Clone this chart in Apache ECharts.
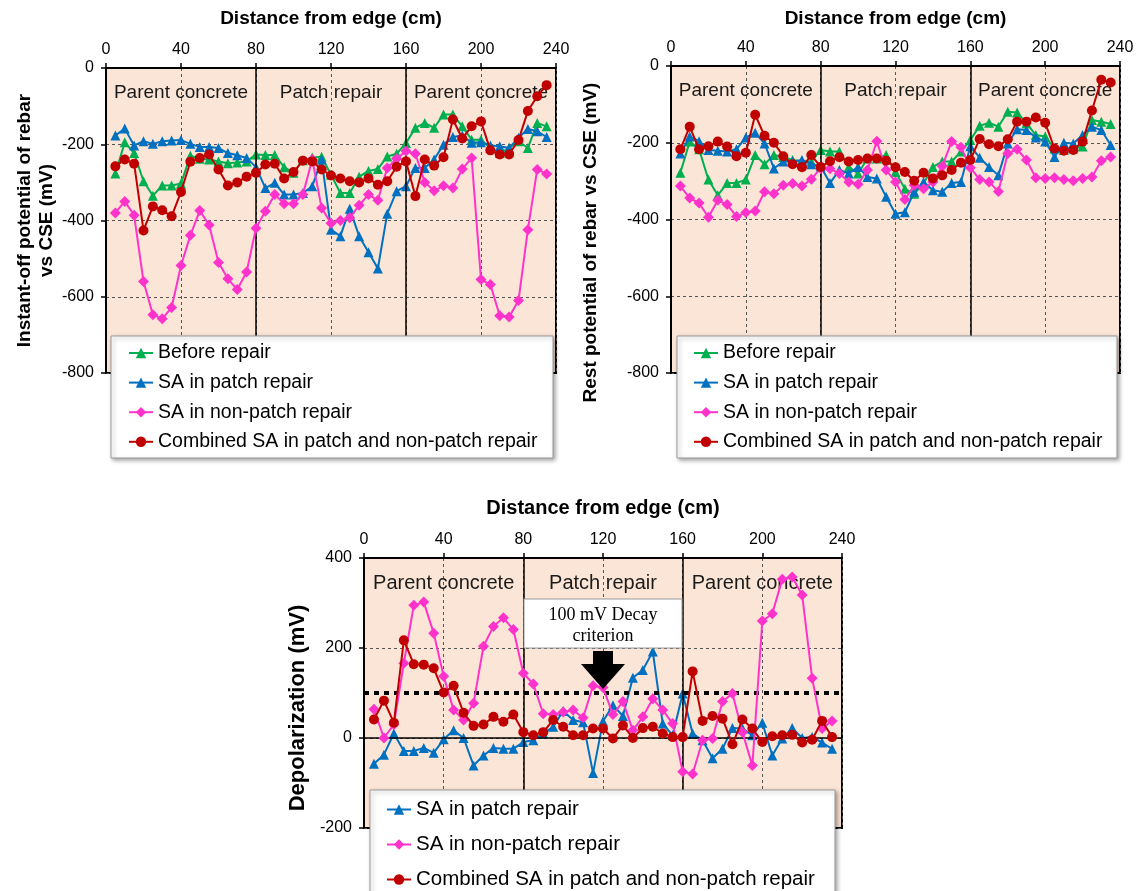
<!DOCTYPE html>
<html>
<head>
<meta charset="utf-8">
<script src="https://cdn.jsdelivr.net/npm/echarts@6/dist/echarts.min.js"></script>
<style>html,body{margin:0;padding:0;background:#fff;}#c{width:1141px;height:891px;}</style>
</head>
<body>
<div id="c"></div>
<script>
// Distance from edge (cm)
const distance = [5,10,15,20,25,30,35,40,45,50,55,60,65,70,75,80,85,90,95,100,105,110,115,120,125,130,135,140,145,150,155,160,165,170,175,180,185,190,195,200,205,210,215,220,225,230,235];
const xTicks = [0,40,80,120,160,200,240];
const regions = ['Parent concrete','Patch repair','Parent concrete'];
const seriesNames = ['Before repair','SA in patch repair','SA in non-patch repair','Combined SA in patch and non-patch repair'];

// Panel 1: Instant-off potential of rebar vs CSE (mV)
const instBefore = [-277,-195,-223,-297,-335,-308,-308,-303,-230,-238,-240,-245,-250,-248,-245,-227,-228,-228,-260,-275,-242,-235,-233,-280,-328,-328,-285,-270,-265,-232,-225,-197,-157,-144,-157,-122,-122,-153,-188,-188,-210,-223,-210,-192,-210,-144,-153];
const instPatch = [-177,-159,-203,-192,-199,-192,-190,-189,-199,-207,-207,-210,-223,-229,-236,-260,-315,-301,-332,-332,-328,-310,-240,-424,-441,-369,-441,-483,-526,-382,-323,-310,-262,-262,-240,-201,-181,-177,-196,-195,-203,-205,-210,-183,-160,-166,-181];
const instNonPatch = [-380,-350,-386,-560,-647,-658,-628,-518,-439,-374,-412,-510,-553,-581,-535,-420,-376,-332,-356,-356,-332,-240,-367,-407,-400,-393,-360,-332,-347,-262,-238,-218,-225,-300,-322,-309,-315,-265,-236,-555,-568,-650,-653,-610,-424,-266,-278];
const instCombined = [-258,-240,-251,-426,-363,-373,-389,-325,-246,-236,-227,-266,-308,-300,-285,-275,-253,-251,-290,-273,-243,-245,-266,-282,-290,-297,-300,-290,-306,-297,-259,-245,-336,-240,-256,-234,-135,-185,-153,-140,-216,-227,-227,-189,-113,-74,-45];

// Panel 2: Rest potential of rebar vs CSE (mV)
const restBefore = [-278,-197,-217,-296,-337,-305,-305,-296,-232,-256,-232,-237,-245,-249,-249,-219,-223,-223,-263,-280,-241,-241,-232,-276,-320,-333,-306,-263,-249,-249,-223,-193,-156,-148,-158,-119,-121,-149,-180,-184,-215,-219,-215,-210,-141,-145,-151];
const restPatch = [-228,-184,-196,-219,-221,-223,-217,-186,-174,-202,-267,-249,-249,-245,-256,-262,-305,-271,-280,-263,-289,-293,-341,-385,-381,-328,-302,-324,-328,-305,-302,-209,-239,-263,-285,-202,-165,-167,-186,-197,-237,-200,-202,-180,-158,-167,-206];
const restNonPatch = [-313,-344,-357,-394,-350,-361,-392,-382,-378,-328,-333,-311,-306,-313,-295,-267,-268,-280,-302,-308,-271,-196,-271,-302,-348,-311,-320,-302,-261,-197,-212,-265,-296,-302,-327,-228,-217,-245,-291,-293,-291,-296,-299,-293,-289,-247,-237];
const restCombined = [-217,-158,-217,-209,-197,-210,-235,-226,-127,-182,-200,-235,-256,-264,-232,-263,-248,-238,-249,-245,-241,-241,-247,-264,-276,-299,-278,-293,-285,-271,-252,-245,-190,-204,-209,-191,-145,-145,-134,-148,-215,-221,-219,-197,-116,-36,-43];

// Panel 3: Depolarization (mV)
const depolPatch = [-57,-37,10,-29,-29,-22,-33,-3,17,0,-61,-39,-22,-24,-24,-9,-5,10,25,60,40,35,-78,37,73,49,134,151,192,32,6,99,10,-5,-45,-24,22,21,6,34,-39,-1,22,0,2,-10,-24];
const depolNonPatch = [64,0,30,166,295,302,233,137,62,40,77,204,248,267,241,144,120,54,52,58,62,45,116,112,52,81,17,47,87,62,32,-75,-80,-5,-1,81,99,13,-61,260,276,353,358,318,133,21,38];
const depolCombined = [41,83,34,217,164,163,155,101,116,56,27,30,47,36,52,13,6,13,40,25,6,6,21,21,-1,28,0,22,25,10,2,2,148,38,49,43,-14,41,21,-9,4,6,7,-10,-4,38,2];
const decayCriterion = 100;

const FF = "'Liberation Sans', Arial, sans-serif";
const C = {green:'#00B050', blue:'#0070C0', pink:'#FF33CC', red:'#C00000'};
const style = [
  {color:C.green, symbol:'triangle', size:10},
  {color:C.blue, symbol:'triangle', size:10},
  {color:C.pink, symbol:'diamond', size:11},
  {color:C.red, symbol:'circle', size:10}
];
function pairs(arr){ return distance.map((d,i)=>[d, arr[i]]); }

const grids = [
  {left:106, top:68, width:450, height:305},
  {left:671, top:66, width:449, height:307},
  {left:364, top:558, width:478, height:270}
];

function xAx(gi, gap, fs){
  return {type:'value', gridIndex:gi, position:'top', min:xTicks[0], max:xTicks[xTicks.length-1], interval:40,
    name:'Distance from edge (cm)', nameLocation:'middle', nameGap:gap,
    nameTextStyle:{fontWeight:'bold', fontSize:fs, color:'#000', fontFamily:FF},
    axisLine:{show:true, onZero:false, lineStyle:{color:'#000', width:2}},
    axisTick:{show:true, inside:false, length:5, lineStyle:{color:'#000', width:1.5}},
    axisLabel:{fontSize:16, color:'#000', margin:10, fontFamily:FF},
    splitLine:{show:true, lineStyle:{color:'#555', type:[3,3], width:1}}};
}
function yAx(gi, min, max, name, gap, fs, pad){
  return {type:'value', gridIndex:gi, min:min, max:max, interval:200,
    name:name, nameLocation:'middle', nameGap:gap, nameRotate:90,
    nameTextStyle:{fontWeight:'bold', fontSize:fs, color:'#000', fontFamily:FF, lineHeight:22, padding:pad||0},
    axisLine:{show:true, onZero:false, lineStyle:{color:'#000', width:2}},
    axisTick:{show:true, inside:false, length:5, lineStyle:{color:'#000', width:1.5}},
    axisLabel:{fontSize:16, color:'#000', margin:12, fontFamily:FF},
    splitLine:{show:true, lineStyle:{color:'#555', type:[3,3], width:1}}};
}

function regionMarks(fs, dist){
  return {
    silent:true,
    itemStyle:{color:'rgba(0,0,0,0)'},
    label:{show:true, position:'insideTop', distance:dist, fontSize:fs, color:'#1a1a1a', fontFamily:FF},
    data:[
      [{xAxis:0, name:regions[0]},{xAxis:80}],
      [{xAxis:80, name:regions[1]},{xAxis:160}],
      [{xAxis:160, name:regions[2]},{xAxis:240}]
    ]
  };
}
function vLines(extra){
  const d = [{xAxis:80},{xAxis:160}];
  return {silent:true, symbol:'none', label:{show:false},
    lineStyle:{color:'#000', width:1.5, type:'solid'}, data: d.concat(extra||[])};
}

function mkSeries(gi, name, arr, k, first, fs, dist, extraLines){
  const s = style[k];
  const o = {type:'line', name:name, xAxisIndex:gi, yAxisIndex:gi, data:pairs(arr),
    symbol:s.symbol, symbolSize:s.size, showSymbol:true,
    lineStyle:{color:s.color, width:2}, itemStyle:{color:s.color}, z:3+k, animation:false};
  if(first){ o.markArea = regionMarks(fs, dist); o.markLine = vLines(extraLines); }
  return o;
}

const series = [
  mkSeries(0, seriesNames[0], instBefore, 0, true, 19, 15),
  mkSeries(0, seriesNames[1], instPatch, 1),
  mkSeries(0, seriesNames[2], instNonPatch, 2),
  mkSeries(0, seriesNames[3], instCombined, 3),
  mkSeries(1, seriesNames[0], restBefore, 0, true, 19, 15),
  mkSeries(1, seriesNames[1], restPatch, 1),
  mkSeries(1, seriesNames[2], restNonPatch, 2),
  mkSeries(1, seriesNames[3], restCombined, 3),
  mkSeries(2, seriesNames[1], depolPatch, 1, true, 20, 15, [{yAxis:0}]),
  mkSeries(2, seriesNames[2], depolNonPatch, 2),
  mkSeries(2, seriesNames[3], depolCombined, 3)
];
// 100 mV decay criterion line
series.push({type:'line', xAxisIndex:2, yAxisIndex:2, data:[], silent:true,
  markLine:{silent:true, symbol:'none', label:{show:false},
    lineStyle:{color:'#000', width:4, type:[5,5]}, data:[{yAxis:decayCriterion}]}});

function legendCfg(left, top, names, fs, gap){
  return {orient:'vertical', left:left, top:top, data:names, z:60,
    itemWidth:24, itemHeight:13, itemGap:gap, padding:0, selectedMode:false,
    textStyle:{fontSize:fs, color:'#000', fontFamily:FF, lineHeight:20}};
}

const option = {
  animation:false,
  backgroundColor:'#fff',
  grid: grids.map(g=>Object.assign({show:true, backgroundColor:'#FBE5D6', borderColor:'#000', borderWidth:2, containLabel:false}, g)),
  xAxis:[xAx(0,40,19), xAx(1,38,19), xAx(2,40,20)],
  yAxis:[
    yAx(0,-800,0,'Instant-off potential of rebar\nvs CSE (mV)',48,19),
    yAx(1,-800,0,'Rest potential of rebar vs CSE (mV)',69,19,[0,46,0,0]),
    yAx(2,-200,400,'Depolarization (mV)',55,22,[0,30,0,0])
  ],
  legend:[
    legendCfg(128, 343, seriesNames, 19.5, 9.6),
    legendCfg(693, 343, seriesNames, 19.5, 9.6),
    legendCfg(386, 799, seriesNames.slice(1), 20.5, 14)
  ],
  graphic:[
    {type:'rect', z:50, shape:{x:111, y:336, width:442, height:122}, style:{fill:'#fff', stroke:'#9a9a9a', lineWidth:1, shadowBlur:4, shadowOffsetX:2, shadowOffsetY:2, shadowColor:'rgba(0,0,0,0.35)'}},
    {type:'rect', z:50, shape:{x:677, y:336, width:440, height:122}, style:{fill:'#fff', stroke:'#9a9a9a', lineWidth:1, shadowBlur:4, shadowOffsetX:2, shadowOffsetY:2, shadowColor:'rgba(0,0,0,0.35)'}},
    {type:'rect', z:50, shape:{x:370, y:790, width:465, height:120}, style:{fill:'#fff', stroke:'#9a9a9a', lineWidth:1, shadowBlur:4, shadowOffsetX:2, shadowOffsetY:2, shadowColor:'rgba(0,0,0,0.35)'}},
    {type:'rect', z:50, shape:{x:524, y:599, width:158, height:49}, style:{fill:'#fff', stroke:'#9a9a9a', lineWidth:1}},
    {type:'text', z:51, x:603, y:626, style:{text:'100 mV Decay\ncriterion', fill:'#000', font:"18px 'Liberation Serif', 'Times New Roman', serif", textAlign:'center', textVerticalAlign:'middle', lineHeight:21}},
    {type:'polygon', z:51, shape:{points:[[593,651],[613,651],[613,664],[625,664],[603,689],[581,664],[593,664]]}, style:{fill:'#000'}}
  ],
  series: series
};

const chart = echarts.init(document.getElementById('c'), null, {renderer:'canvas'});
chart.setOption(option);
</script>
</body>
</html>
